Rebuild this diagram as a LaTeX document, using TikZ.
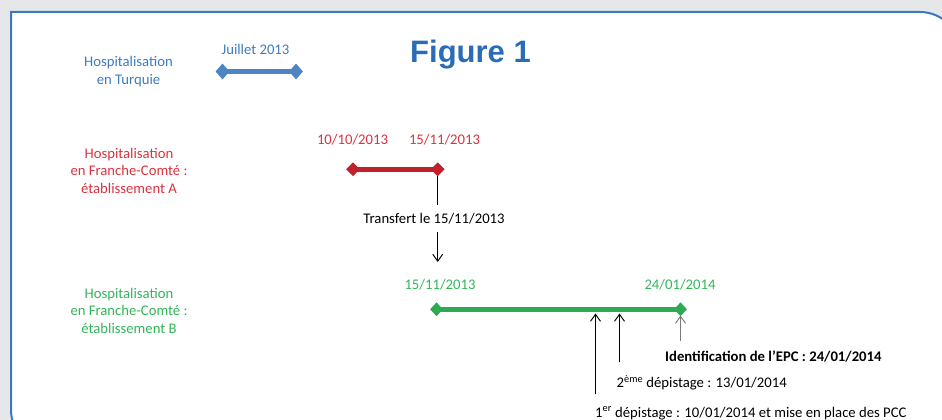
\documentclass[tikz,border=0pt]{standalone}
\usepackage{fontspec}
\setmainfont{Carlito}
\newfontfamily\arialfont{Liberation Sans}
\usetikzlibrary{shapes.geometric,arrows.meta}
\definecolor{bggrey}{HTML}{E6E7E9}
\definecolor{framecol}{HTML}{3A78C6}
\definecolor{bluetxt}{HTML}{3B7DC2}
\definecolor{titlecol}{HTML}{2B6CB8}
\definecolor{blueline}{HTML}{4F84C4}
\definecolor{redtxt}{HTML}{D9343F}
\definecolor{redline}{HTML}{C1212B}
\definecolor{greentxt}{HTML}{33B65A}
\definecolor{greenline}{HTML}{2DAA52}
\definecolor{greyarrow}{HTML}{7A7A7A}
\tikzset{
  txt/.style={inner sep=0pt, font=\fontsize{14.7}{17.6}\selectfont},
  lbl/.style={txt, align=center, anchor=center},
  diam/.style={diamond, inner sep=0pt, minimum width=14pt, minimum height=15pt, fill=#1},
  bar/.style={line width=5pt, draw=#1},
  conn/.style={line width=0.95pt, draw=black},
  arr/.style={conn, -{Straight Barb[length=7pt,width=10pt,line width=0.95pt]}},
}
\begin{document}
\begin{tikzpicture}[x=1pt,y=-1pt]
\useasboundingbox (0,0) rectangle (942,420);
\clip (0,0) rectangle (942,420);
\fill[bggrey] (0,0) rectangle (942,420);
% frame
\path[fill=white, draw=framecol, line width=2pt]
  (11,410) -- (11,12) -- (920,12) .. controls (942.1,12) and (960,29.9) .. (960,52)
  -- (960,450) -- (51,450) .. controls (28.9,450) and (11,432.1) .. (11,410) -- cycle;

% title
\node[inner sep=0pt, anchor=base, font=\arialfont\bfseries\fontsize{31}{36}\selectfont, text=titlecol] (fig) at (470.5,63) {Figure 1};

% Turquie
\node[lbl, text=bluetxt] (lturq) at (128.5,72) {\strut Hospitalisation\\\strut en Turquie};
\node[txt, anchor=base, text=bluetxt] (djuil) at (255.5,55) {Juillet 2013};
\coordinate (bA) at (222.5,71.5);
\coordinate (bB) at (296,71.5);
\draw[bar=blueline] (bA) -- (bB);
\node[diam=blueline, minimum height=16pt, minimum width=14pt] (bAd) at (bA) {};
\node[diam=blueline, minimum height=16pt, minimum width=14pt] (bBd) at (bB) {};

% Etablissement A
\node[lbl, text=redtxt] (lra) at (129,172.4) {\strut Hospitalisation\\\strut en Franche-Comté :\\\strut établissement A};
\node[txt, anchor=base, text=redtxt] (dra1) at (352.5,144.5) {10/10/2013};
\node[txt, anchor=base, text=redtxt] (dra2) at (444.5,144.5) {15/11/2013};
\coordinate (rA) at (353,169.3);
\coordinate (rB) at (437.7,169.3);
\draw[bar=redline] (rA) -- (rB);
\coordinate (trtop) at (437.7,205);
\draw[conn] (rB) -- (trtop);
\node[diam=redline, minimum height=14pt, minimum width=14pt] (rAd) at (rA) {};
\node[diam=redline, minimum height=14pt, minimum width=14pt] (rBd) at (rB) {};
\node[txt, anchor=base, text=black] (transf) at (434,223.5) {Transfert le 15/11/2013};
\coordinate (trs) at (437.7,231.7);
\coordinate (tre) at (437.7,262);
\draw[arr] (trs) -- (tre);

% Etablissement B
\node[lbl, text=greentxt] (lrb) at (129,312.4) {\strut Hospitalisation\\\strut en Franche-Comté :\\\strut établissement B};
\node[txt, anchor=base, text=greentxt] (dgb1) at (440,289) {15/11/2013};
\node[txt, anchor=base, text=greentxt] (dgb2) at (680,289) {24/01/2014};
\coordinate (gA) at (436.5,309.3);
\coordinate (gB) at (680.5,309.3);
\draw[bar=greenline] (gA) -- (gB);
\node[diam=greenline, minimum height=14pt, minimum width=13pt] (gAd) at (gA) {};
\node[diam=greenline, minimum height=14pt, minimum width=13pt] (gBd) at (gB) {};

\coordinate (a1s) at (595.5,394);
\coordinate (a1e) at (595.5,313.5);
\coordinate (a2s) at (619.5,362);
\coordinate (a2e) at (619.5,313.5);
\coordinate (a3s) at (680.5,341);
\coordinate (a3e) at (680.5,315.5);
\draw[arr] (a1s) -- (a1e);
\draw[arr] (a2s) -- (a2e);
\draw[arr, draw=greyarrow, -{Straight Barb[length=7pt,width=10pt,line width=0.95pt,color=greyarrow]}] (a3s) -- (a3e);

\node[txt, anchor=base west, text=black, font=\bfseries\fontsize{14.7}{17.6}\selectfont] (ident) at (665,361) {Identification de l’EPC : 24/01/2014};
\node[txt, anchor=base west, text=black] (dep2) at (616.5,387.5) {2\textsuperscript{ème} dépistage : 13/01/2014};
\node[txt, anchor=base west, text=black] (dep1) at (595,417) {1\textsuperscript{er} dépistage : 10/01/2014 et mise en place des PCC};
\end{tikzpicture}
\end{document}
